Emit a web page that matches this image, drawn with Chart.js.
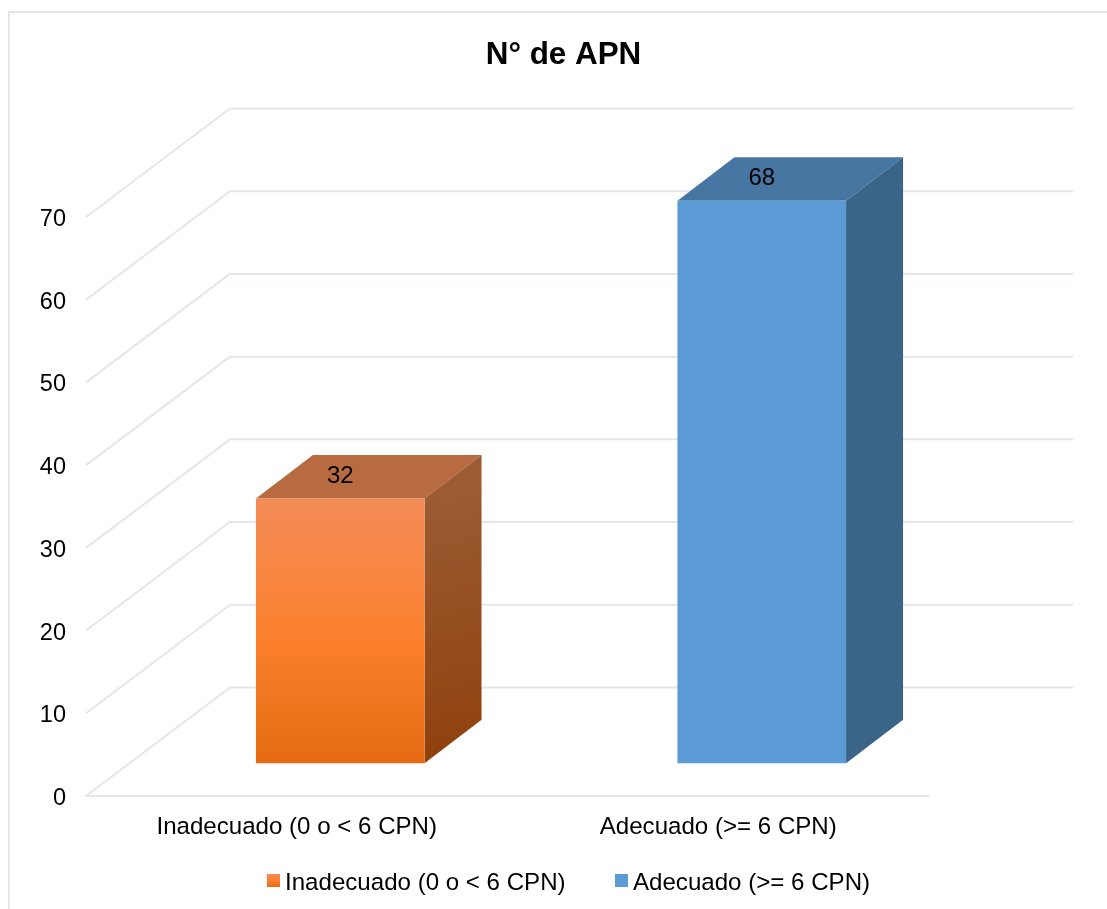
<!DOCTYPE html>
<html lang="es">
<head>
<meta charset="utf-8">
<title>N° de APN</title>
<script src="https://cdn.jsdelivr.net/npm/chart.js@4/dist/chart.umd.min.js"></script>
<style>
    html, body { margin: 0; padding: 0; background: #fff; overflow: hidden; }
    #wrap { position: relative; width: 1107px; height: 909px; }
</style>
</head>
<body>
<div id="wrap"><canvas id="apnChart"></canvas></div>
<script>
// Datos del gráfico
const chartTitle = 'N° de APN';
const categories = ['Inadecuado (0 o < 6 CPN)', 'Adecuado (>= 6 CPN)'];
const values = [32, 68];
const axisMax = 70;
const axisStep = 10;

const FONT = '"Liberation Sans", Arial, sans-serif';
const GRID_COLOR = '#e3e6ed';

// Desplazamiento de la pared del fondo y de las barras sobre el piso
const WALL_DX = 144;
const WALL_DY = 108.5;
const BAR_DX = 43.5;
const BAR_DY = 32.7;
const DEPTH_DX = 57;
const DEPTH_DY = 43.5;

const faces = [
    { top: '#b86b40', sideFrom: '#9c5b33', sideTo: '#8e400b', stops: ['#f48c58', '#fb7f2b', '#e46b14'] },
    { top: '#4776a3', sideFrom: '#3a6588', sideTo: '#3a6588', stops: ['#5b9bd5', '#5b9bd5', '#5b9bd5'] }
];

/**
 * Degradado vertical de la cara frontal
 */
function frontGradient(ctx, yTop, yBottom, stops) {
    if (!isFinite(yTop) || !isFinite(yBottom)) return stops[0];
    const g = ctx.createLinearGradient(0, yTop, 0, yBottom);
    g.addColorStop(0, stops[0]);
    g.addColorStop(0.55, stops[1]);
    g.addColorStop(1, stops[2]);
    return g;
}

function fillPoly(ctx, points, fill) {
    ctx.beginPath();
    points.forEach((p, i) => i ? ctx.lineTo(p[0], p[1]) : ctx.moveTo(p[0], p[1]));
    ctx.closePath();
    ctx.fillStyle = fill;
    ctx.fill();
}

/**
 * Marco, rejilla en perspectiva y caras laterales de las barras
 */
const boxPlugin = {
    id: 'box3d',
    afterLayout(chart) {
        // el título se centra en el marco completo, no en el área de las barras
        chart.titleBlock.left += 99;
        chart.titleBlock.right += 99;
    },
    beforeDraw(chart) {
        const ctx = chart.ctx;
        ctx.save();
        ctx.strokeStyle = GRID_COLOR;
        ctx.lineWidth = 2;
        ctx.beginPath();
        ctx.moveTo(9, chart.height);
        ctx.lineTo(9, 12);
        ctx.lineTo(chart.width, 12);
        ctx.stroke();
        ctx.restore();
    },
    beforeDatasetsDraw(chart) {
        const ctx = chart.ctx;
        const { left, right } = chart.chartArea;
        const yScale = chart.scales.y;

        ctx.save();
        ctx.strokeStyle = GRID_COLOR;
        ctx.lineWidth = 2;
        ctx.lineJoin = 'round';
        yScale.ticks.forEach(t => {
            const y = yScale.getPixelForValue(t.value);
            ctx.beginPath();
            if (t.value === 0) {
                ctx.moveTo(right, y);
                ctx.lineTo(left, y);
            } else {
                ctx.moveTo(left, y);
            }
            ctx.lineTo(left + WALL_DX, y - WALL_DY);
            ctx.lineTo(right + WALL_DX, y - WALL_DY);
            ctx.stroke();
        });

        chart.getDatasetMeta(0).data.forEach((bar, i) => {
            const x0 = bar.x - bar.width / 2 + BAR_DX;
            const x1 = bar.x + bar.width / 2 + BAR_DX;
            const yTop = bar.y - BAR_DY;
            const yBase = bar.base - BAR_DY;

            fillPoly(ctx, [
                [x0, yTop], [x1, yTop],
                [x1 + DEPTH_DX, yTop - DEPTH_DY], [x0 + DEPTH_DX, yTop - DEPTH_DY]
            ], faces[i].top);

            const side = ctx.createLinearGradient(x1, yTop, x1 + DEPTH_DX, yBase);
            side.addColorStop(0, faces[i].sideFrom);
            side.addColorStop(1, faces[i].sideTo);
            fillPoly(ctx, [
                [x1, yTop], [x1 + DEPTH_DX, yTop - DEPTH_DY],
                [x1 + DEPTH_DX, yBase - DEPTH_DY], [x1, yBase]
            ], side);
        });
        ctx.restore();
    },
    beforeDatasetDraw(chart) {
        chart.ctx.save();
        chart.ctx.translate(BAR_DX, -BAR_DY);
    },
    afterDatasetDraw(chart) {
        chart.ctx.restore();
    },
    afterDatasetsDraw(chart) {
        const ctx = chart.ctx;
        ctx.save();
        ctx.fillStyle = '#000';
        ctx.font = '24px ' + FONT;
        ctx.textAlign = 'center';
        ctx.textBaseline = 'middle';
        chart.getDatasetMeta(0).data.forEach((bar, i) => {
            ctx.fillText(String(values[i]), bar.x + BAR_DX, bar.y - BAR_DY - 22.5);
        });
        ctx.restore();
        drawLegend(ctx);
    }
};

/**
 * Leyenda inferior
 */
function drawLegend(ctx) {
    const boxX = [267, 615];
    ctx.save();
    ctx.font = '24.1px ' + FONT;
    ctx.textAlign = 'left';
    ctx.textBaseline = 'middle';
    categories.forEach((name, i) => {
        ctx.fillStyle = frontGradient(ctx, 874, 887, faces[i].stops);
        ctx.fillRect(boxX[i], 874, 13, 13);
        ctx.fillStyle = '#000';
        ctx.fillText(name, boxX[i] + 18, 883);
    });
    ctx.restore();
}

new Chart(document.getElementById('apnChart'), {
    type: 'bar',
    data: {
        labels: categories,
        datasets: [{
            data: values,
            barPercentage: 0.4,
            categoryPercentage: 1,
            borderWidth: 0,
            clip: false,
            backgroundColor(c) {
                if (c.type !== 'data') return faces[0].stops[0];
                const y = c.chart.scales.y;
                return frontGradient(c.chart.ctx, y.getPixelForValue(c.parsed.y), y.getPixelForValue(0), faces[c.dataIndex].stops);
            }
        }]
    },
    options: {
        responsive: true,
        maintainAspectRatio: false,
        animation: false,
        layout: { autoPadding: false, padding: { left: 0, right: 178, top: 0, bottom: 0 } },
        plugins: {
            legend: { display: false },
            tooltip: { enabled: false },
            title: {
                display: true,
                text: chartTitle,
                color: '#000',
                font: { family: FONT, size: 31.4, weight: 'bold', lineHeight: 1.2 },
                padding: { top: 36.2, bottom: 143.1 }
            }
        },
        scales: {
            x: {
                grid: { display: false, drawTicks: false },
                border: { display: false },
                ticks: { color: '#000', font: { family: FONT, size: 24.1 }, padding: 16.5, maxRotation: 0, autoSkip: false },
                afterFit(scale) { scale.height = 113; }
            },
            y: {
                min: 0,
                max: axisMax,
                grid: { display: false, drawTicks: false },
                border: { display: false },
                ticks: { stepSize: axisStep, color: '#000', font: { family: FONT, size: 23.5 }, padding: 20, labelOffset: 2.5 },
                afterFit(scale) { scale.width = 86; }
            }
        }
    },
    plugins: [boxPlugin]
});
</script>
</body>
</html>
